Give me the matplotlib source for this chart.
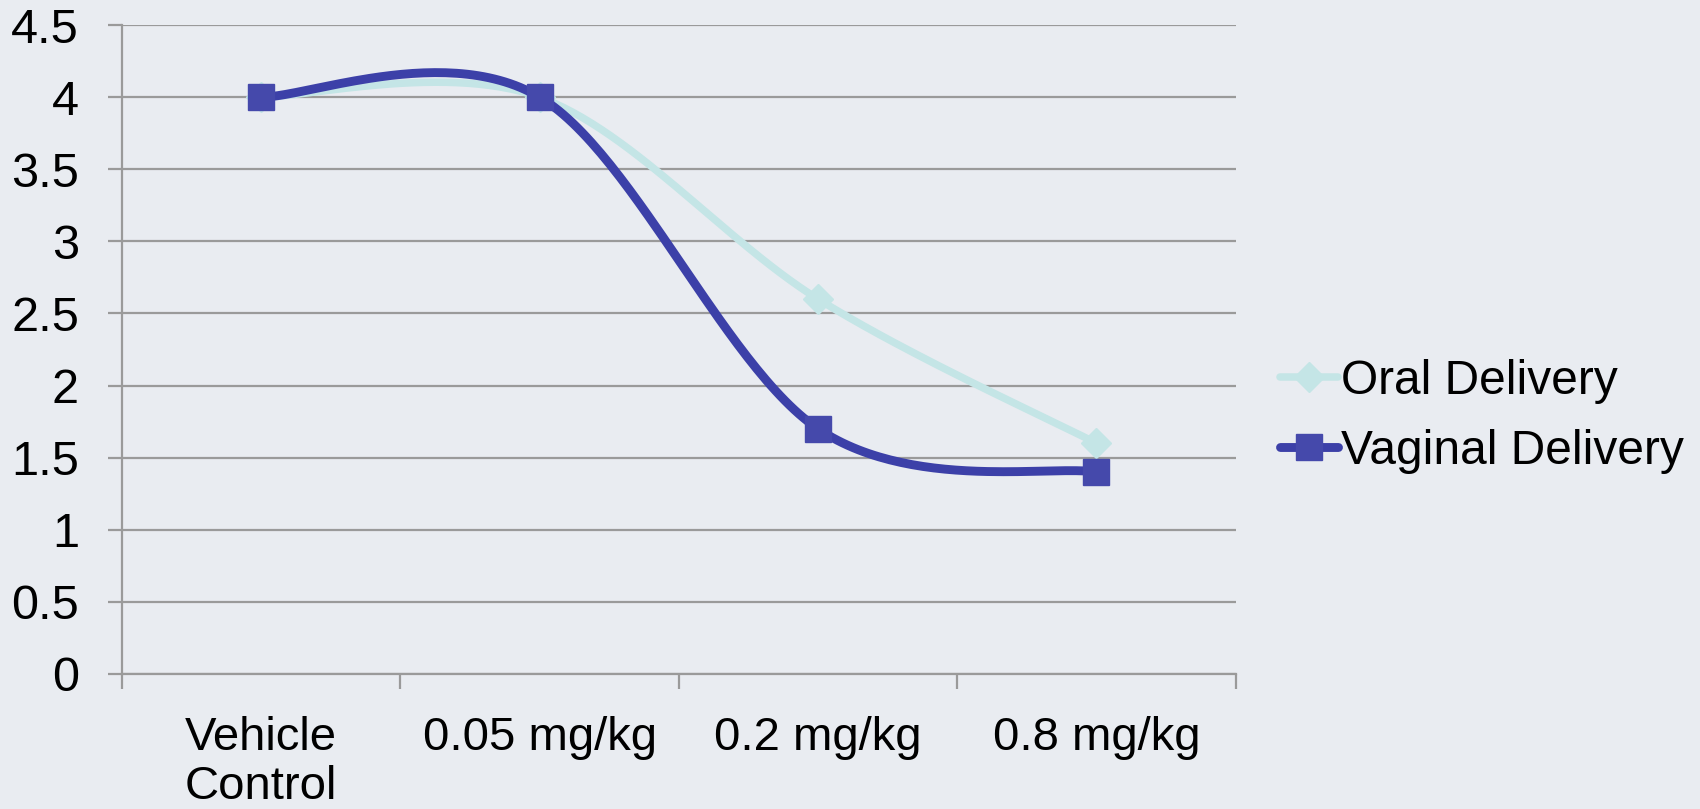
import numpy as np
import matplotlib
matplotlib.use("Agg")
import matplotlib.pyplot as plt
from matplotlib.lines import Line2D

categories = ["Vehicle\nControl", "0.05 mg/kg", "0.2 mg/kg", "0.8 mg/kg"]
oral = [4.0, 4.0, 2.6, 1.6]
vaginal = [4.0, 4.0, 1.7, 1.4]
series_names = ["Oral Delivery", "Vaginal Delivery"]
yticks = [0, 0.5, 1, 1.5, 2, 2.5, 3, 3.5, 4, 4.5]

BG = "#E9ECF1"
GRID = "#9A9A9A"
ORAL_C = "#C4E5E6"
VAG_C = "#3C40A8"
VAG_M = "#4549AB"

plt.rcParams['font.family'] = ['Liberation Sans', 'DejaVu Sans']


def smooth(xs, ys, n=60):
    """Excel-like smoothed line: Catmull-Rom converted to cubic Bezier."""
    P = np.column_stack([xs, ys]).astype(float)
    pts = []
    m = len(P)
    for i in range(m - 1):
        p0 = P[i - 1] if i > 0 else P[i]
        p1 = P[i]
        p2 = P[i + 1]
        p3 = P[i + 2] if i + 2 < m else P[i + 1]
        c1 = p1 + (p2 - p0) / 6.0
        c2 = p2 - (p3 - p1) / 6.0
        t = np.linspace(0, 1, n)[:, None]
        seg = ((1 - t) ** 3) * p1 + 3 * ((1 - t) ** 2) * t * c1 + 3 * (1 - t) * t ** 2 * c2 + t ** 3 * p2
        pts.append(seg if i == 0 else seg[1:])
    pts = np.vstack(pts)
    return pts[:, 0], pts[:, 1]


fig = plt.figure(figsize=(17, 8.09), dpi=100)
fig.patch.set_facecolor(BG)
ax = fig.add_axes([0.0718, 0.167, 0.655, 0.802])
ax.set_facecolor(BG)

x = np.arange(len(categories))

# Oral
sx, sy = smooth(x, oral)
ax.plot(sx, sy, color=ORAL_C, lw=5.4, solid_capstyle='round', zorder=3)
ax.plot(x, oral, linestyle='none', marker='D', markersize=15, color=ORAL_C,
        markeredgecolor=ORAL_C, zorder=4)
# Vaginal
sx, sy = smooth(x, vaginal)
ax.plot(sx, sy, color=VAG_C, lw=6.4, solid_capstyle='round', zorder=5)
ax.plot(x, vaginal, linestyle='none', marker='s', markersize=19, color=VAG_M,
        markeredgecolor=VAG_M, zorder=6)

h1 = Line2D([], [], color=ORAL_C, lw=5.4, marker='D', markersize=15, solid_capstyle='round')
h2 = Line2D([], [], color=VAG_C, lw=6.4, marker='s', markersize=19,
            markerfacecolor=VAG_M, markeredgecolor=VAG_M, solid_capstyle='round')
leg = fig.legend([h1, h2], series_names, loc='center left', bbox_to_anchor=(0.753, 0.485),
                 frameon=False, fontsize=34.5, handlelength=1.2, handletextpad=0.08,
                 labelspacing=0.52, borderpad=0, borderaxespad=0)

ax.set_xlim(-0.5, len(categories) - 0.5)
ax.set_ylim(0, 4.5)
ax.set_yticks(yticks)
ax.set_yticklabels([f"{v:g}" for v in yticks])
ax.yaxis.grid(True, color=GRID, lw=1.6)
ax.set_axisbelow(True)

ax.set_xticks(x)
ax.set_xticklabels(categories, fontsize=34, linespacing=1.17)
ax.set_xticks(np.arange(-0.5, len(categories)), minor=True)
ax.tick_params(axis='x', which='major', length=0, pad=30)
ax.tick_params(axis='x', which='minor', length=11, width=1.6, color=GRID)
ax.tick_params(axis='y', length=10, width=1.6, color=GRID, labelsize=35, pad=21)

for s in ['top', 'right']:
    ax.spines[s].set_visible(False)
for s in ['left', 'bottom']:
    ax.spines[s].set_color(GRID)
    ax.spines[s].set_linewidth(1.6)

fig.savefig("out.png", dpi=100, facecolor=BG)
